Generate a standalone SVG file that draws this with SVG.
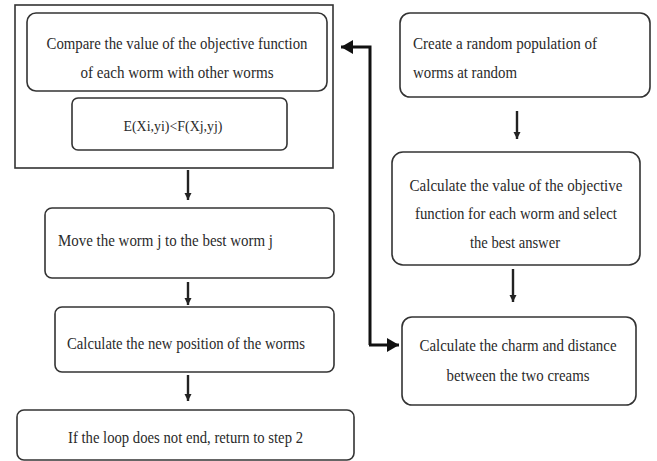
<svg xmlns="http://www.w3.org/2000/svg" width="657" height="461" viewBox="0 0 657 461">
<defs>
<style>
.box{fill:#fff;stroke:#333;stroke-width:1.6}
.t{font-family:"Liberation Serif","Times New Roman",serif;font-size:17px;fill:#2a2a2a}
.m{text-anchor:middle}
.sa{stroke:#222;stroke-width:2.4;fill:none}
.ba{stroke:#111;stroke-width:3;fill:none}
</style>
<marker id="ah" markerUnits="userSpaceOnUse" markerWidth="8" markerHeight="8" refX="7" refY="4" orient="auto">
<path d="M0,0.5 L7,4 L0,7.5 Z" fill="#222"/>
</marker>
<marker id="bh" markerUnits="userSpaceOnUse" markerWidth="14" markerHeight="14" refX="12" refY="7" orient="auto">
<path d="M0,0 L12,7 L0,14 Z" fill="#111"/>
</marker>
</defs>
<rect width="657" height="461" fill="#fff"/>
<g id="outer">
<rect x="15" y="5" width="318" height="163" fill="#fff" stroke="#333" stroke-width="1.6"/>
</g>
<g id="compare">
<rect class="box" x="27" y="13" width="300" height="78" rx="9"/>
<text class="t m" x="177" y="49" textLength="261" lengthAdjust="spacingAndGlyphs">Compare the value of the objective function</text>
<text class="t m" x="177" y="78" textLength="193" lengthAdjust="spacingAndGlyphs">of each worm with other worms</text>
</g>
<g id="formula">
<rect class="box" x="72" y="98" width="215" height="52" rx="6"/>
<text class="t m" x="173" y="131" style="font-size:14px" textLength="99" lengthAdjust="spacingAndGlyphs">E(Xi,yi)&lt;F(Xj,yj)</text>
</g>
<g id="move">
<rect class="box" x="45" y="208" width="289" height="70" rx="7"/>
<text class="t" x="58" y="246" textLength="215" lengthAdjust="spacingAndGlyphs">Move the worm j to the best worm j</text>
</g>
<g id="position">
<rect class="box" x="55" y="307" width="279" height="65" rx="7"/>
<text class="t" x="67" y="349" textLength="238" lengthAdjust="spacingAndGlyphs">Calculate the new position of the worms</text>
</g>
<g id="loop">
<rect class="box" x="17" y="410" width="337" height="50" rx="7"/>
<text class="t" x="68" y="443" textLength="235" lengthAdjust="spacingAndGlyphs">If the loop does not end, return to step 2</text>
</g>
<g id="create">
<rect class="box" x="400" y="13" width="250" height="84" rx="10"/>
<text class="t" x="413" y="49" textLength="184" lengthAdjust="spacingAndGlyphs">Create a random population of</text>
<text class="t" x="413" y="78" textLength="104" lengthAdjust="spacingAndGlyphs">worms at random</text>
</g>
<g id="objective">
<rect class="box" x="392" y="152" width="248" height="113" rx="11"/>
<text class="t m" x="516" y="191" textLength="213" lengthAdjust="spacingAndGlyphs">Calculate the value of the objective</text>
<text class="t m" x="516" y="219" textLength="202" lengthAdjust="spacingAndGlyphs">function for each worm and select</text>
<text class="t m" x="515" y="248" textLength="90" lengthAdjust="spacingAndGlyphs">the best answer</text>
</g>
<g id="charm">
<rect class="box" x="402" y="317" width="234" height="88" rx="10"/>
<text class="t m" x="518" y="351" textLength="197" lengthAdjust="spacingAndGlyphs">Calculate the charm and distance</text>
<text class="t m" x="518" y="381" textLength="143" lengthAdjust="spacingAndGlyphs">between the two creams</text>
</g>
<g id="connectors">
<line class="sa" x1="188" y1="170" x2="188" y2="200" marker-end="url(#ah)"/>
<line class="sa" x1="188" y1="282" x2="188" y2="305" marker-end="url(#ah)"/>
<line class="sa" x1="188" y1="375" x2="188" y2="401" marker-end="url(#ah)"/>
<line class="sa" x1="517" y1="111" x2="517" y2="139" marker-end="url(#ah)"/>
<line class="sa" x1="513" y1="269" x2="513" y2="302" marker-end="url(#ah)"/>
<polyline class="ba" points="370,345 370,47 341,47" marker-end="url(#bh)"/>
<line class="ba" x1="369" y1="345" x2="399" y2="345" marker-end="url(#bh)"/>
</g>
</svg>
